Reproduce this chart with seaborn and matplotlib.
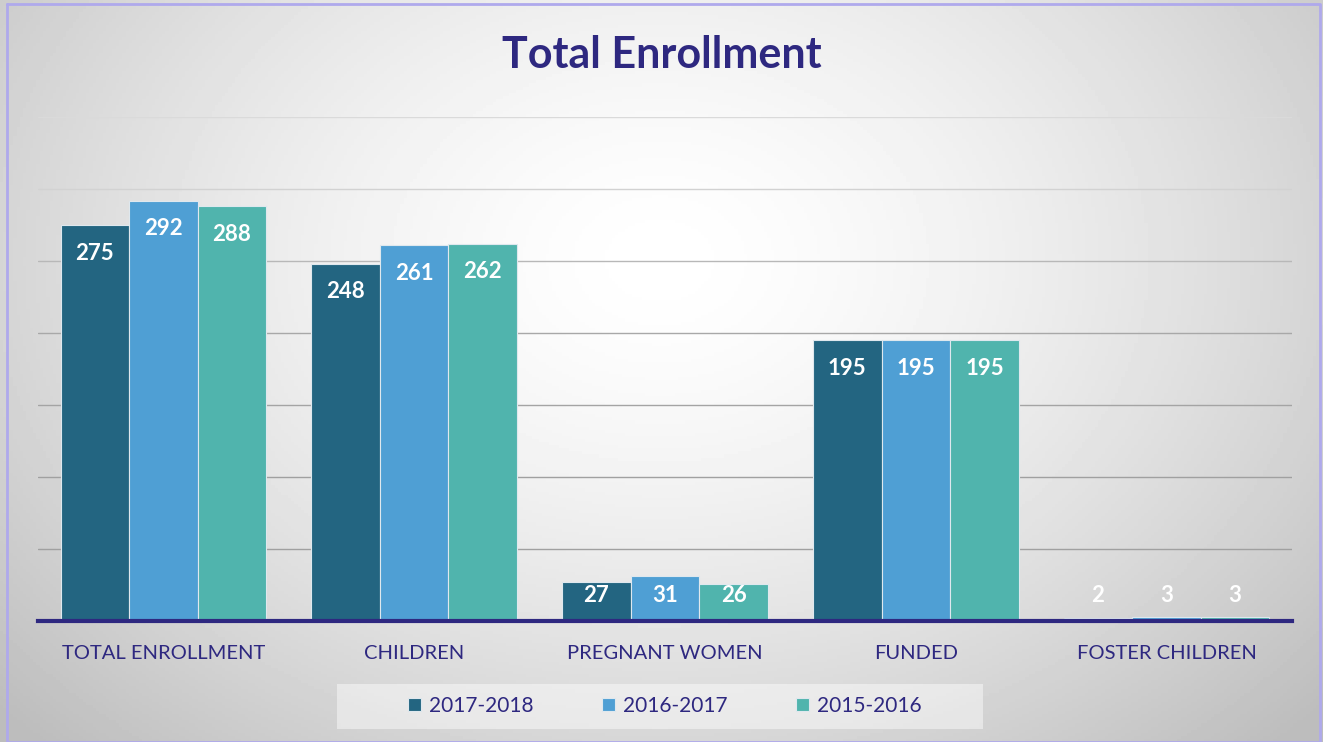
import seaborn as sns
import matplotlib.pyplot as plt
import numpy as np
import pandas as pd
from matplotlib.patches import Rectangle

categories = ["TOTAL ENROLLMENT", "CHILDREN", "PREGNANT WOMEN", "FUNDED", "FOSTER CHILDREN"]
years = ["2017-2018", "2016-2017", "2015-2016"]
values_2017_2018 = [275, 248, 27, 195, 2]
values_2016_2017 = [292, 261, 31, 195, 3]
values_2015_2016 = [288, 262, 26, 195, 3]

colors = ["#236581", "#4F9FD4", "#50B4AD"]
navy = "#2E2880"

df = pd.DataFrame({
    "category": categories * 3,
    "year": np.repeat(years, len(categories)),
    "value": values_2017_2018 + values_2016_2017 + values_2015_2016,
})

sns.set_style("white")
plt.rcParams["font.family"] = ["Lato", "DejaVu Sans"]

fig = plt.figure(figsize=(13.23, 7.42), dpi=100)

# radial gradient background
bg = fig.add_axes([0, 0, 1, 1], zorder=-5)
xx, yy = np.meshgrid(np.linspace(0, 1323, 400), np.linspace(0, 742, 240))
d = np.sqrt(((xx - 660) / 800) ** 2 + ((yy - 260) / 600) ** 2)
shade = np.clip(1.0 - 0.22 * d ** 1.5, 0.74, 1.0)
bg.imshow(shade, cmap="gray", vmin=0, vmax=1, extent=[0, 1323, 742, 0], aspect="auto")
bg.set_xlim(0, 1323)
bg.set_ylim(742, 0)
bg.plot([7, 1320, 1320, 7, 7], [4, 4, 742, 742, 4], color="#AFA9EC", lw=2)
# legend box
bg.add_patch(Rectangle((337, 684), 646, 45, facecolor="white", alpha=0.45, edgecolor="none"))
bg.axis("off")

ax = fig.add_axes([38 / 1323, 1 - 621 / 742, (1292 - 38) / 1323, (621 - 117) / 742])
ax.patch.set_alpha(0)

sns.barplot(data=df, x="category", y="value", hue="year", palette=colors,
            width=0.82, edgecolor="#dfe8ee", linewidth=0.8, saturation=1,
            ax=ax, zorder=3)

ax.set_ylim(0, 350)
ax.set_xlim(-0.5, 4.5)
ax.set_yticks(np.arange(50, 351, 50))
ax.yaxis.grid(True, color="#9c9c9c", lw=1)
for line, c in zip(ax.get_ygridlines(), ["#a0a0a0", "#a0a0a0", "#a4a4a4", "#a8a8a8", "#b8b8b8", "#d2d2d2", "#dadada"]):
    line.set_color(c)
ax.set_axisbelow(True)
ax.tick_params(left=False, labelleft=False, bottom=False)
for s in ["top", "right", "left"]:
    ax.spines[s].set_visible(False)
ax.spines["bottom"].set_color(navy)
ax.spines["bottom"].set_linewidth(3)
ax.spines["bottom"].set_zorder(4)
ax.set_xlabel("")
ax.set_ylabel("")
ax.set_xticks(range(len(categories)))
ax.set_xticklabels(categories, fontsize=14.5, color=navy)
ax.tick_params(axis="x", pad=14)

# value labels inside the bar ends
for cont in ax.containers:
    for bar in cont:
        h = bar.get_height()
        ax.text(bar.get_x() + bar.get_width() / 2, max(h - 19.5, 17.5), f"{h:.0f}",
                ha="center", va="center", color="white", fontsize=16,
                fontweight="bold", zorder=5)

fig.text(0.5, 1 - 55 / 742, "Total Enrollment", ha="center", va="center",
         fontsize=31, fontweight="bold", color=navy)

leg = ax.legend(loc="center", bbox_to_anchor=(665 / 1323, 1 - 706 / 742),
                bbox_transform=fig.transFigure, ncol=3, frameon=False,
                fontsize=15, handlelength=0.6, handleheight=0.6,
                columnspacing=3.3, handletextpad=0.4)
for t in leg.get_texts():
    t.set_color(navy)

fig.savefig("out.png", dpi=100)
